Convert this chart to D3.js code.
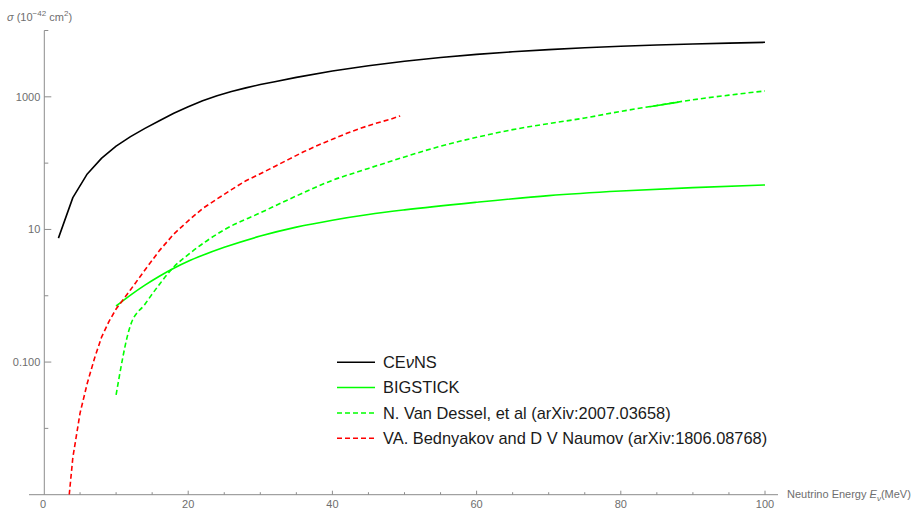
<!DOCTYPE html>
<html>
<head>
<meta charset="utf-8">
<script src="https://cdn.jsdelivr.net/npm/d3@7"></script>
<style>
  html, body { margin: 0; padding: 0; background: #fff; }
  svg { display: block; font-family: "Liberation Sans", Arial, sans-serif; }
</style>
</head>
<body>
<svg id="chart" width="915" height="509"></svg>
<script>
// Cross sections in units of 1e-42 cm^2 versus neutrino energy (MeV)
const cevnsE = [2, 4, 6, 8, 10, 12, 14, 16, 18, 20, 22, 24, 26, 28, 30, 32, 35, 40, 45, 50, 55, 60, 65, 70, 75, 80, 85, 90, 95, 100];
const cevnsSigma = [7.4, 30.2, 68.7, 119, 180, 251, 334, 436, 566, 708, 871, 1040, 1202, 1365, 1531, 1683, 1963, 2449, 2944, 3443, 3917, 4363, 4775, 5152, 5483, 5777, 6039, 6266, 6457, 6637];

const bigstickE = [10, 12, 14, 16, 18, 20, 22, 25, 30, 35, 40, 45, 50, 60, 70, 80, 90, 100];
const bigstickSigma = [0.700, 1.023, 1.445, 1.97, 2.60, 3.31, 4.07, 5.37, 7.94, 10.84, 13.8, 16.8, 19.7, 25.7, 32.4, 38.0, 42.7, 46.9];

const vanDesselE = [10, 12, 14, 16, 18, 20, 25, 30, 35, 40, 45, 50, 55, 60, 65, 70, 75, 80, 85, 90, 95, 100];
const vanDesselSigma = [0.032, 0.36, 0.746, 1.48, 2.72, 4.17, 9.89, 17.8, 32.0, 55.0, 83.2, 124, 180, 245, 320, 394, 479, 603, 741, 902, 1059, 1227];
// a short stretch of this set where two tabulated pieces overlap
const vanDesselOverlapE = [84, 88];
const vanDesselOverlapSigma = [708, 832];

const bednyakovE = [3.5, 4, 5, 6, 7, 8, 9, 10, 12, 14, 16, 18, 20, 22, 24, 26, 28, 30, 32, 34, 36, 38, 40, 42, 44, 46, 48, 49.4];
const bednyakovSigma = [0.001, 0.00363, 0.017, 0.0479, 0.1135, 0.24, 0.407, 0.631, 1.23, 2.45, 4.79, 8.51, 13.5, 20.7, 28.8, 39.8, 54.3, 69.2, 89.1, 115, 148, 186, 229, 282, 339, 398, 457, 515];

const xTicks = [0, 20, 40, 60, 80, 100];
const xMinorTicks = [5, 10, 15, 25, 30, 35, 45, 50, 55, 65, 70, 75, 85, 90, 95];
const yTicks = [0.1, 10, 1000];
const yTickLabels = ["0.100", "10", "1000"];
const yMinorTicks = [0.01, 1, 100, 10000];

const legendLabels = ["CEvNS", "BIGSTICK", "N. Van Dessel, et al (arXiv:2007.03658)", "VA. Bednyakov and D V Naumov (arXiv:1806.08768)"];
const seriesColors = ["#000000", "#00ff00", "#00ff00", "#ff0000"];
const seriesDashed = [false, false, true, true];

const svg = d3.select("#chart");
const axisColor = "#8c8c8c";
const labelColor = "#6e6e6e";

const x = d3.scaleLinear().domain([0, 100]).range([44, 765]);
const y = d3.scaleLog().domain([0.001, 10000]).range([494.7, 30.5]);

// clip to the plotting region
svg.append("defs").append("clipPath").attr("id", "plot")
  .append("rect").attr("x", 44).attr("y", 25).attr("width", 740).attr("height", 469.7);

// x axis: ticks point inward (upward)
const xAxisG = svg.append("g").attr("transform", "translate(0,494.7)");
xAxisG.append("line").attr("x1", 29).attr("x2", 778).attr("y1", 0).attr("y2", 0)
  .attr("stroke", axisColor).attr("stroke-width", 1);
xAxisG.selectAll("line.major").data(xTicks.slice(1)).join("line")
  .attr("class", "major")
  .attr("x1", d => x(d)).attr("x2", d => x(d)).attr("y1", 0).attr("y2", -4)
  .attr("stroke", axisColor);
xAxisG.selectAll("line.minor").data(xMinorTicks).join("line")
  .attr("class", "minor")
  .attr("x1", d => x(d)).attr("x2", d => x(d)).attr("y1", 0).attr("y2", -2.5)
  .attr("stroke", axisColor);
xAxisG.selectAll("text").data(xTicks).join("text")
  .attr("x", d => x(d) - (d === 0 ? 1 : 0)).attr("y", 13)
  .attr("text-anchor", "middle").attr("font-size", 11).attr("fill", labelColor)
  .text(d => d);

// y axis: ticks point inward (rightward)
const yAxisG = svg.append("g").attr("transform", "translate(44.3,0)");
yAxisG.append("line").attr("x1", 0).attr("x2", 0).attr("y1", y(10000)).attr("y2", 494.7)
  .attr("stroke", axisColor);
yAxisG.selectAll("line.major").data(yTicks).join("line")
  .attr("class", "major")
  .attr("x1", 0).attr("x2", 7).attr("y1", d => y(d)).attr("y2", d => y(d))
  .attr("stroke", axisColor);
yAxisG.selectAll("line.minor").data(yMinorTicks).join("line")
  .attr("class", "minor")
  .attr("x1", 0).attr("x2", 4).attr("y1", d => y(d)).attr("y2", d => y(d))
  .attr("stroke", axisColor);
yAxisG.selectAll("text").data(yTicks).join("text")
  .attr("x", -4).attr("y", d => y(d) + 4)
  .attr("text-anchor", "end").attr("font-size", 11).attr("fill", labelColor)
  .text((d, i) => yTickLabels[i]);

// axis titles
const yTitle = svg.append("text").attr("x", 7).attr("y", 21)
  .attr("font-size", 11).attr("fill", labelColor);
yTitle.append("tspan").attr("font-style", "italic").text("σ");
yTitle.append("tspan").text(" (10");
yTitle.append("tspan").attr("dy", -5).attr("font-size", 8).text("−42");
yTitle.append("tspan").attr("dy", 5).text(" cm");
yTitle.append("tspan").attr("dy", -5).attr("font-size", 8).text("2");
yTitle.append("tspan").attr("dy", 5).text(")");

const xTitle = svg.append("text").attr("x", 787).attr("y", 498)
  .attr("font-size", 11).attr("fill", labelColor);
xTitle.append("tspan").text("Neutrino Energy ");
xTitle.append("tspan").attr("font-style", "italic").text("E");
xTitle.append("tspan").attr("font-style", "italic").attr("font-size", 8).attr("dy", 3).text("ν");
xTitle.append("tspan").attr("dy", -3).text("(MeV)");

// curves
const series = [
  { e: cevnsE, s: cevnsSigma, curve: d3.curveLinear, color: seriesColors[0], dashed: false },
  { e: bigstickE, s: bigstickSigma, curve: d3.curveMonotoneX, color: seriesColors[1], dashed: false },
  { e: vanDesselE, s: vanDesselSigma, curve: d3.curveMonotoneX, color: seriesColors[2], dashed: true },
  { e: vanDesselOverlapE, s: vanDesselOverlapSigma, curve: d3.curveLinear, color: seriesColors[2], dashed: false },
  { e: bednyakovE, s: bednyakovSigma, curve: d3.curveLinear, color: seriesColors[3], dashed: true }
];
const plotG = svg.append("g").attr("clip-path", "url(#plot)");
series.forEach(ser => {
  const pts = ser.e.map((e, j) => [e, ser.s[j]]);
  const line = d3.line().x(d => x(d[0])).y(d => y(d[1])).curve(ser.curve);
  plotG.append("path").datum(pts)
    .attr("d", line)
    .attr("fill", "none")
    .attr("stroke", ser.color)
    .attr("stroke-width", 1.6)
    .attr("stroke-linejoin", "round")
    .attr("stroke-dasharray", ser.dashed ? "5,3" : null);
});

// legend
const legendY = [362.3, 387.6, 413, 438.3];
const legendG = svg.append("g");
legendLabels.forEach((lab, i) => {
  legendG.append("line")
    .attr("x1", 337).attr("x2", 375).attr("y1", legendY[i]).attr("y2", legendY[i])
    .attr("stroke", seriesColors[i]).attr("stroke-width", 1.5)
    .attr("stroke-dasharray", seriesDashed[i] ? "5,3" : null);
  const t = legendG.append("text").attr("x", 383).attr("y", legendY[i] + 5.5)
    .attr("font-size", 16.4).attr("fill", "#1a1a1a");
  if (i === 0) {
    t.append("tspan").text("CE");
    t.append("tspan").attr("font-style", "italic").text("ν");
    t.append("tspan").text("NS");
  } else {
    t.text(lab);
  }
});
</script>
</body>
</html>
